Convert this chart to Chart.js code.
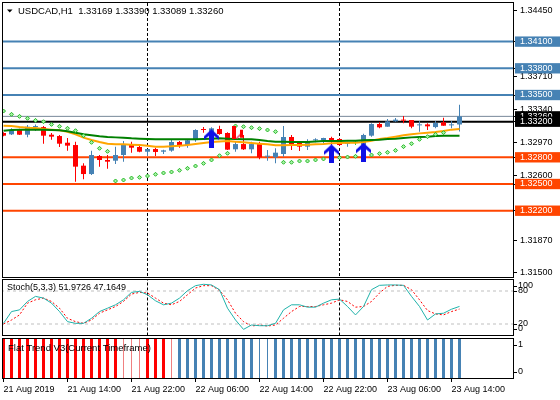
<!DOCTYPE html>
<html>
<head>
<meta charset="utf-8">
<title>USDCAD,H1</title>
<script src="https://cdn.jsdelivr.net/npm/chart.js@4.4.1/dist/chart.umd.min.js"></script>
<style>
    html, body { margin: 0; padding: 0; background: #fff; }
    #wrap { position: relative; width: 560px; height: 400px; overflow: hidden; background: #fff; }
    canvas { position: absolute; left: 0; }
    #mainChart { top: 0; }
    #stochChart { top: 278px; }
    #flatChart { top: 337px; }
</style>
</head>
<body>
<div id="wrap">
    <canvas id="mainChart" width="560" height="278"></canvas>
    <canvas id="stochChart" width="560" height="59"></canvas>
    <canvas id="flatChart" width="560" height="63"></canvas>
</div>
<script>
// H1 bars, 21 Aug 06:00 .. 23 Aug 15:00
const openP = [1.33073,1.33058,1.33107,1.33054,1.33140,1.33140,1.33054,1.33039,1.32964,1.32938,
    1.32706,1.32612,1.32815,1.32770,1.32762,1.32826,1.32949,1.32916,1.32863,1.32893,
    1.32863,1.32875,1.32972,1.32938,1.32994,1.33111,1.33077,1.33118,1.33073,1.32890,
    1.32949,1.32890,1.32949,1.32807,1.32800,1.32837,1.33028,1.32964,1.32920,1.32991,
    1.32991,1.33017,1.33006,1.32953,1.32964,1.32938,1.33043,1.33174,1.33144,1.33204,
    1.33219,1.33219,1.33159,1.33170,1.33140,1.33193,1.33159,1.33169];
const highP = [1.33081,1.33126,1.33122,1.33163,1.33170,1.33152,1.33073,1.33051,1.33017,1.32976,
    1.32732,1.32875,1.32826,1.32826,1.32920,1.32983,1.32976,1.32931,1.32893,1.32908,
    1.32886,1.33006,1.32983,1.33002,1.33114,1.33140,1.33137,1.33155,1.33081,1.32976,
    1.33051,1.32976,1.32976,1.32882,1.32901,1.33152,1.33051,1.32976,1.33002,1.33013,
    1.33021,1.33032,1.33013,1.32976,1.32991,1.33066,1.33182,1.33193,1.33230,1.33242,
    1.33264,1.33219,1.33208,1.33182,1.33208,1.33245,1.33208,1.33390];
const lowP = [1.33036,1.33051,1.33051,1.33024,1.33096,1.32953,1.32998,1.32916,1.32875,1.32526,
    1.32553,1.32601,1.32695,1.32672,1.32725,1.32751,1.32852,1.32856,1.32815,1.32815,
    1.32837,1.32863,1.32908,1.32908,1.32976,1.33077,1.33066,1.33054,1.32882,1.32863,
    1.32882,1.32846,1.32777,1.32762,1.32732,1.32807,1.32882,1.32871,1.32882,1.32968,
    1.32957,1.32938,1.32931,1.32920,1.32938,1.32901,1.33032,1.33126,1.33144,1.33200,
    1.33182,1.33126,1.33088,1.33107,1.33126,1.33155,1.33126,1.33089];
const closeP = [1.33043,1.33107,1.33054,1.33144,1.33144,1.33043,1.33032,1.32953,1.32931,1.32695,
    1.32612,1.32826,1.32770,1.32751,1.32826,1.32949,1.32908,1.32863,1.32893,1.32860,
    1.32878,1.32972,1.32938,1.32991,1.33107,1.33107,1.33126,1.33062,1.32886,1.32949,
    1.32890,1.32949,1.32800,1.32815,1.32852,1.33028,1.32949,1.32920,1.32983,1.32994,
    1.33017,1.32991,1.32938,1.32957,1.32964,1.33051,1.33174,1.33137,1.33204,1.33223,
    1.33212,1.33144,1.33163,1.33148,1.33185,1.33155,1.33163,1.33260];

// moving averages (orange = fast, green = slow)
const maFast = [1.33155,1.33152,1.33140,1.33133,1.33129,1.33118,1.33111,1.33103,1.33088,1.33058,
    1.33021,1.32994,1.32972,1.32953,1.32946,1.32946,1.32942,1.32938,1.32931,1.32920,
    1.32920,1.32923,1.32931,1.32938,1.32949,1.32961,1.32972,1.32979,1.32983,1.32976,
    1.32968,1.32961,1.32953,1.32946,1.32935,1.32935,1.32938,1.32938,1.32942,1.32946,
    1.32949,1.32957,1.32961,1.32964,1.32964,1.32972,1.32987,1.33006,1.33017,1.33032,
    1.33047,1.33058,1.33069,1.33077,1.33084,1.33096,1.33111,1.33118];
const maSlow = [1.33099,1.33107,1.33111,1.33111,1.33111,1.33111,1.33107,1.33103,1.33092,1.33077,
    1.33058,1.33047,1.33036,1.33028,1.33024,1.33021,1.33013,1.33009,1.33006,1.33002,
    1.33002,1.33002,1.33002,1.33002,1.33002,1.33006,1.33009,1.33013,1.33009,1.33006,
    1.33002,1.33002,1.32994,1.32983,1.32976,1.32976,1.32972,1.32972,1.32972,1.32979,
    1.32983,1.32983,1.32983,1.32987,1.32987,1.32991,1.32994,1.32998,1.33006,1.33009,
    1.33017,1.33024,1.33028,1.33032,1.33039,1.33043,1.33043,1.33043];

// parabolic SAR
const sarP = [1.33320,1.33283,1.33260,1.33238,1.33215,1.33200,1.33170,1.33148,1.33126,1.33099,
    1.33043,1.32968,1.32901,1.32867,1.32534,1.32545,1.32567,1.32575,1.32590,1.32609,
    1.32624,1.32635,1.32654,1.32676,1.32702,1.32732,1.32770,1.32818,1.32845,1.33152,
    1.33144,1.33133,1.33122,1.33107,1.33088,1.32744,1.32744,1.32758,1.32758,1.32770,
    1.32781,1.32788,1.32796,1.32803,1.32811,1.32818,1.32826,1.32841,1.32856,1.32878,
    1.32920,1.32953,1.33002,1.33032,1.33058,1.33077,null,null];

// signal arrows
const buyBars = [26, 41, 45];
const buyPrice = [1.33008, 1.32839, 1.32857];
const sellBars = [29];
const sellPrice = [1.33082];

// horizontal levels
const resistanceLevels = [1.341, 1.338, 1.335];
const pivotLevels = [1.332];
const supportLevels = [1.328, 1.325, 1.322];
const priceTicks = [1.3445, 1.3371, 1.3334, 1.3297, 1.3260, 1.3187, 1.3150];

// Stoch(5,3,3)
const stochMain = [21.2,42.6,45.7,61.0,70.2,67.1,57.9,42.6,24.3,21.2,
    21.2,30.4,42.6,48.7,54.9,64.0,77.5,79.3,73.2,62.2,
    54.9,57.9,67.1,80.6,89.7,92.2,91.0,82.4,48.7,27.3,
    10.2,18.2,16.9,16.9,21.2,45.7,54.9,54.9,50.6,50.6,
    57.9,64.0,65.3,51.8,36.5,51.8,82.4,90.3,91.0,91.0,
    90.3,70.2,51.8,27.3,38.3,39.6,46.9,51.9726];
const stochSignal = [20.0,27.3,36.5,57.9,64.0,67.1,61.0,48.7,30.4,24.3,
    21.2,27.3,39.6,45.7,51.8,61.0,74.4,77.5,76.3,67.1,
    57.9,54.9,61.0,73.2,85.4,89.7,89.7,81.2,64.0,39.6,
    24.3,16.3,18.2,16.3,18.2,30.4,42.6,51.8,51.8,51.8,
    54.9,57.9,64.0,61.0,50.6,51.8,61.0,76.3,88.5,90.3,
    90.3,82.4,64.0,44.5,38.3,36.5,42.6,47.1649];
const stochLevels = [20, 80];
const stochAxis = [100, 80, 20, 0];

// Flat Trend V3: 2 strong red, 1 weak red, -1 weak blue, -2 strong blue
const flatTrend = [2,2,2,2,2,2,2,2,2,2,2,2,2,2,2, 1,1,1, 2,2,2, 1,
    -2,-2,-2,-2,-2,-2,-2,-2,-2,-2, -1,-1,
    -2,-2,-2,-2,-2,-2,-2,-2,-2,-2,-2,-2,-2,-2,-2,-2,-2,-2,-2,-2,-2,-2,-2,-2];
const flatAxis = [1, 0];

// time axis
const dayBreaks = [18, 42];
const timeTickBars = [0, 8, 16, 24, 32, 40, 48, 56];
const timeLabels = ['21 Aug 2019', '21 Aug 14:00', '21 Aug 22:00', '22 Aug 06:00',
    '22 Aug 14:00', '22 Aug 22:00', '23 Aug 06:00', '23 Aug 14:00'];

// ---------- styles ----------
const FAMILY = '"Liberation Sans", Arial, sans-serif';
const BULL = '#4682B4';
const BEAR = '#FF0000';
const DOJI = '#32CD32';
const XMIN = -0.0625;      // bar i sits at 3.5 + 8i px
const XMAX = 63.6875;
const PMIN = 1.31455;
const PMAX = 1.34534;

Chart.defaults.font.family = FAMILY;
Chart.defaults.font.size = 9;
Chart.defaults.color = '#000';

const bars = openP.map((_, i) => i);
const lastBar = bars.length - 1;
const bidPrice = closeP[lastBar];

function candleColor(i) {
    if (closeP[i] > openP[i]) return BULL;
    if (closeP[i] < openP[i]) return BEAR;
    return DOJI;
}

// level label backgrounds on the price axis
const labelBg = {};
resistanceLevels.forEach(v => labelBg[v.toFixed(5)] = '#4682B4');
labelBg[bidPrice.toFixed(5)] = '#000000';
pivotLevels.forEach(v => labelBg[v.toFixed(5)] = '#000000');
supportLevels.forEach(v => labelBg[v.toFixed(5)] = '#FF4500');
const axisTicks = [...priceTicks, ...resistanceLevels, bidPrice, ...pivotLevels, ...supportLevels];

function tickBg(ctx) {
    return ctx.tick ? labelBg[ctx.tick.value.toFixed(5)] : undefined;
}

function hLine(value, color, width, order, dash) {
    return {
        type: 'line',
        data: [{ x: XMIN - 1, y: value }, { x: XMAX + 1, y: value }],
        borderColor: color,
        borderWidth: width,
        borderDash: dash || [],
        pointRadius: 0,
        order: order
    };
}

function vLine(bar, yMin, yMax) {
    return {
        type: 'line',
        data: [{ x: bar, y: yMin }, { x: bar, y: yMax }],
        borderColor: '#000',
        borderWidth: 1,
        borderDash: [3, 2],
        pointRadius: 0,
        order: 12
    };
}

// arrow glyphs used as point styles
function makeBuyArrow() {
    const c = document.createElement('canvas');
    c.width = 15; c.height = 19;
    const g = c.getContext('2d');
    g.fillStyle = '#1010E6';
    g.beginPath();
    [[7.5, 0], [15, 7], [15, 10.5], [10, 6.5], [10, 19], [5, 19], [5, 6.5], [0, 10.5], [0, 7]]
        .forEach(([x, y], k) => k ? g.lineTo(x, y) : g.moveTo(x, y));
    g.closePath();
    g.fill();
    return c;
}

function makeSellMark() {
    const c = document.createElement('canvas');
    c.width = 23; c.height = 13;
    const g = c.getContext('2d');
    g.fillStyle = '#FF0000';
    g.fillRect(8, 0, 4, 13);
    g.fillStyle = '#F0507A';
    g.beginPath();
    g.moveTo(12, 12); g.lineTo(19, 5); g.lineTo(19, 8); g.lineTo(13, 13);
    g.closePath();
    g.fill();
    g.fillStyle = '#FF0000';
    g.fillRect(16, 4, 3, 8);
    return c;
}

// frame, title and side labels of a panel
const panelDecor = {
    id: 'panelDecor',
    afterDatasetsDraw(chart, args, opts) {
        const ctx = chart.ctx;
        const a = chart.chartArea;
        ctx.save();
        ctx.strokeStyle = '#000';
        ctx.lineWidth = 1;
        ctx.setLineDash([]);
        ctx.strokeRect(a.left - 0.5, a.top - 0.5, a.right - a.left + 1, a.bottom - a.top + 1);

        ctx.fillStyle = '#000';
        ctx.textBaseline = 'middle';
        ctx.textAlign = 'left';
        if (opts.triangle) {
            ctx.beginPath();
            ctx.moveTo(7, 9.5); ctx.lineTo(12.5, 9.5); ctx.lineTo(9.75, 12.5);
            ctx.closePath();
            ctx.fill();
        }
        if (opts.title) {
            ctx.font = (opts.titleSize || 9) + 'px ' + FAMILY;
            ctx.fillText(opts.title, opts.titleX, a.top + opts.titleDy);
        }
        if (opts.sideLabels) {
            const scale = chart.scales.y;
            ctx.font = '9px ' + FAMILY;
            opts.sideLabels.forEach(v => {
                let y = scale.getPixelForValue(v);
                y = Math.min(Math.max(y, a.top + 6), a.bottom - 6);
                ctx.beginPath();
                ctx.moveTo(a.right, Math.round(y) + 0.5);
                ctx.lineTo(a.right + 4, Math.round(y) + 0.5);
                ctx.stroke();
                ctx.fillText(String(v), a.right + 5, y);
            });
        }
        ctx.restore();
    }
};

const baseOptions = {
    responsive: false,
    animation: false,
    devicePixelRatio: 1,
    events: []
};

// ---------- main price panel ----------
function renderMainChart() {
    const datasets = [];

    resistanceLevels.forEach(v => datasets.push(hLine(v, '#4682B4', 2, 10)));
    supportLevels.forEach(v => datasets.push(hLine(v, '#FF4500', 2, 10)));
    pivotLevels.forEach(v => datasets.push(hLine(v, '#000000', 2, 10)));
    datasets.push(hLine(bidPrice, '#778899', 1, 11));
    dayBreaks.forEach(b => datasets.push(vLine(b, PMIN - 1, PMAX + 1)));

    // wicks then bodies
    datasets.push({
        type: 'bar',
        data: bars.map(i => ({ x: i, y: [lowP[i], highP[i]] })),
        backgroundColor: bars.map(candleColor),
        barThickness: 1,
        grouped: false,
        inflateAmount: 0,
        order: 6
    });
    datasets.push({
        type: 'bar',
        data: bars.map(i => ({ x: i, y: [openP[i], closeP[i]] })),
        backgroundColor: bars.map(candleColor),
        barThickness: 5,
        minBarLength: 1,
        grouped: false,
        inflateAmount: 0,
        order: 5
    });

    datasets.push({
        type: 'line',
        data: bars.map(i => ({ x: i, y: maSlow[i] })),
        borderColor: '#008000',
        borderWidth: 2,
        pointRadius: 0,
        order: 4
    });
    datasets.push({
        type: 'line',
        data: bars.map(i => ({ x: i, y: maFast[i] })),
        borderColor: '#FFA500',
        borderWidth: 2,
        pointRadius: 0,
        order: 4
    });

    datasets.push({
        type: 'line',
        showLine: false,
        data: bars.filter(i => sarP[i] !== null).map(i => ({ x: i, y: sarP[i] })),
        pointStyle: 'rectRot',
        pointRadius: 2,
        pointBorderWidth: 1,
        pointBorderColor: '#22B822',
        pointBackgroundColor: '#A8F0A8',
        order: 3
    });

    datasets.push({
        type: 'line',
        showLine: false,
        data: buyBars.map((b, k) => ({ x: b, y: buyPrice[k] })),
        pointStyle: makeBuyArrow(),
        pointRadius: 6,
        order: 1
    });
    datasets.push({
        type: 'line',
        showLine: false,
        data: sellBars.map((b, k) => ({ x: b, y: sellPrice[k] })),
        pointStyle: makeSellMark(),
        pointRadius: 6,
        order: 2
    });

    const title = 'USDCAD,H1  ' + [openP, highP, lowP, closeP].map(s => s[lastBar].toFixed(5)).join(' ');

    new Chart(document.getElementById('mainChart'), {
        type: 'bar',
        data: { datasets },
        plugins: [panelDecor],
        options: {
            ...baseOptions,
            layout: { autoPadding: false, padding: { left: 3, top: 3, right: 0, bottom: 1 } },
            plugins: {
                legend: { display: false },
                tooltip: { enabled: false },
                panelDecor: { title, titleX: 18, titleDy: 8, titleSize: 9.5, triangle: true }
            },
            scales: {
                x: { type: 'linear', display: false, min: XMIN, max: XMAX, offset: false },
                y: {
                    type: 'linear',
                    position: 'right',
                    min: PMIN,
                    max: PMAX,
                    afterBuildTicks: scale => { scale.ticks = axisTicks.map(v => ({ value: v })); },
                    afterFit: scale => { scale.width = 47; scale.paddingTop = 0; scale.paddingBottom = 0; },
                    border: { display: false },
                    grid: { drawOnChartArea: false, drawTicks: true, tickLength: 4, color: '#000' },
                    ticks: {
                        autoSkip: false,
                        padding: 3,
                        font: { size: 9, lineHeight: 1.15 },
                        callback: v => v.toFixed(5),
                        color: ctx => tickBg(ctx) ? '#FFFFFF' : '#000000',
                        showLabelBackdrop: ctx => !!tickBg(ctx),
                        backdropColor: ctx => tickBg(ctx) || 'rgba(0,0,0,0)',
                        backdropPadding: { left: 5, right: 9, top: 0, bottom: 0 }
                    }
                }
            }
        }
    });
}

// ---------- stochastic panel ----------
function renderStochChart() {
    const datasets = [];
    stochLevels.forEach(v => datasets.push(hLine(v, '#C0C0C0', 1, 10, [3, 3])));
    dayBreaks.forEach(b => datasets.push(vLine(b, -10, 110)));
    datasets.push({
        data: bars.map(i => ({ x: i, y: stochSignal[i] })),
        borderColor: '#FF0000',
        borderWidth: 1,
        borderDash: [2, 2],
        pointRadius: 0,
        order: 2
    });
    datasets.push({
        data: bars.map(i => ({ x: i, y: stochMain[i] })),
        borderColor: '#20B2AA',
        borderWidth: 1,
        pointRadius: 0,
        order: 1
    });

    const title = 'Stoch(5,3,3) ' + stochMain[lastBar].toFixed(4) + ' ' + stochSignal[lastBar].toFixed(4);

    new Chart(document.getElementById('stochChart'), {
        type: 'line',
        data: { datasets },
        plugins: [panelDecor],
        options: {
            ...baseOptions,
            layout: { autoPadding: false, padding: { left: 3, top: 2, right: 47, bottom: 2 } },
            plugins: {
                legend: { display: false },
                tooltip: { enabled: false },
                panelDecor: { title, titleX: 7, titleDy: 8, sideLabels: stochAxis }
            },
            scales: {
                x: { type: 'linear', display: false, min: XMIN, max: XMAX },
                y: { type: 'linear', display: false, min: 0, max: 100 }
            }
        }
    });
}

// ---------- Flat Trend panel + time axis ----------
function renderFlatChart() {
    const kinds = [
        { code: 2, color: '#FF0000', width: 3 },
        { code: 1, color: '#F08080', width: 1 },
        { code: -2, color: '#4682B4', width: 3 },
        { code: -1, color: '#4682B4', width: 1 }
    ];
    const datasets = [];
    dayBreaks.forEach(b => datasets.push(vLine(b, -1, 2)));
    kinds.forEach(k => {
        datasets.push({
            type: 'bar',
            data: bars.filter(i => flatTrend[i] === k.code).map(i => ({ x: i, y: 1 })),
            backgroundColor: k.color,
            barThickness: k.width,
            grouped: false,
            inflateAmount: 0,
            order: 2
        });
    });

    new Chart(document.getElementById('flatChart'), {
        type: 'bar',
        data: { datasets },
        plugins: [panelDecor],
        options: {
            ...baseOptions,
            layout: { autoPadding: false, padding: { left: 3, top: 2, right: 47, bottom: 0 } },
            plugins: {
                legend: { display: false },
                tooltip: { enabled: false },
                panelDecor: { title: 'Flat Trend V3(Current Timeframe)', titleX: 8, titleDy: 9.5, titleSize: 9.5, sideLabels: flatAxis }
            },
            scales: {
                x: {
                    type: 'linear',
                    min: XMIN,
                    max: XMAX,
                    offset: false,
                    afterBuildTicks: scale => { scale.ticks = timeTickBars.map(v => ({ value: v })); },
                    afterFit: scale => { scale.height = 22; scale.paddingLeft = 0; scale.paddingRight = 0; },
                    border: { display: false },
                    grid: { drawOnChartArea: false, drawTicks: true, tickLength: 4, color: '#000', offset: false },
                    ticks: {
                        autoSkip: false,
                        maxRotation: 0,
                        minRotation: 0,
                        align: 'start',
                        padding: 2,
                        font: { size: 9 },
                        callback: (v, idx) => timeLabels[idx]
                    }
                },
                y: { type: 'linear', display: false, min: 0, max: 1 }
            }
        }
    });
}

renderMainChart();
renderStochChart();
renderFlatChart();
</script>
</body>
</html>
